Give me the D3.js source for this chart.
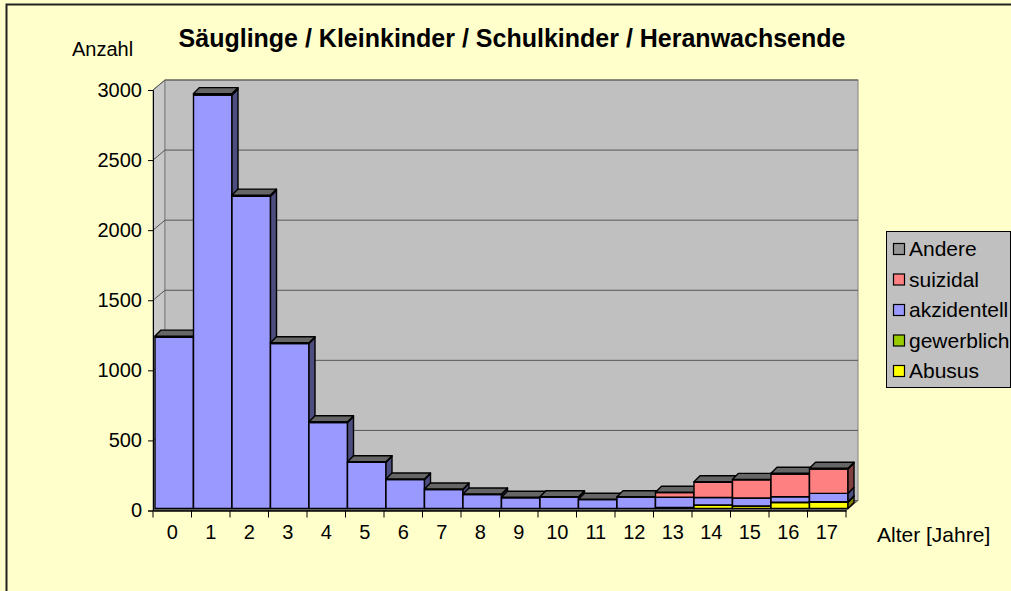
<!DOCTYPE html>
<html>
<head>
<meta charset="utf-8">
<script src="https://cdn.jsdelivr.net/npm/d3@7"></script>
<style>
  body { margin: 0; background: #ffffcc; }
  svg { display: block; }
</style>
</head>
<body>
<div id="chart"></div>
<script>
// Daten: Alter 0..17, gestapelte Anzahl je Ursache
var ageLabels = ["0", "1", "2", "3", "4", "5", "6", "7", "8", "9", "10", "11", "12", "13", "14", "15", "16", "17"];
var abusus      = [0, 0, 0, 0, 0, 0, 0, 0, 0, 0, 0, 0, 0, 8, 23, 17, 42, 45];
var gewerblich  = [0, 0, 0, 0, 0, 0, 0, 0, 0, 0, 0, 0, 0, 0, 2, 2, 3, 3];
var akzidentell = [1222, 2950, 2228, 1177, 614, 330, 206, 136, 100, 77, 81, 63, 81, 72, 53, 56, 39, 60];
var suizidal    = [0, 0, 0, 0, 0, 0, 0, 0, 0, 0, 0, 0, 0, 33, 109, 129, 162, 174];
var andere      = [8, 10, 8, 6, 5, 4, 4, 3, 3, 3, 3, 3, 3, 3, 4, 4, 5, 5];
var yTicks = [0, 500, 1000, 1500, 2000, 2500, 3000];

var seriesNames = ["Abusus", "gewerblich", "akzidentell", "suizidal", "Andere"];
var seriesData = [abusus, gewerblich, akzidentell, suizidal, andere];
var seriesColors = ["#ffff00", "#99cc00", "#9999ff", "#ff8080", "#969696"];

var W = 1011, H = 591;
var font = "Arial, 'Liberation Sans', sans-serif";

// 3D Versatz
var wallDx = 12, wallDy = -10;
var barDx = 6, barDy = -6, barOff = 2;

var svg = d3.select("#chart").append("svg")
    .attr("width", W)
    .attr("height", H);

svg.append("rect").attr("width", W).attr("height", H).attr("fill", "#ffffcc");
svg.append("rect")
    .attr("x", 6.5).attr("y", 4.5)
    .attr("width", 1300).attr("height", 900)
    .attr("fill", "none").attr("stroke", "#222").attr("stroke-width", 2);

var x = d3.scaleBand().domain(ageLabels).range([153, 846]).padding(0);
var y = d3.scaleLinear().domain([0, 3000]).range([510.5, 90]);

var rows = ageLabels.map(function (a, i) {
    var r = { age: a };
    seriesNames.forEach(function (s, k) { r[s] = seriesData[k][i]; });
    return r;
});
var stacked = d3.stack().keys(seriesNames)(rows);

function pts(arr) {
    return arr.map(function (p) { return p[0] + "," + p[1]; }).join(" ");
}

/************************************************
				Wände
*************************************************/
var xL = x.range()[0], xR = x.range()[1];
var yB = y(0), yT = y(3000);

// linke Wand
svg.append("polygon")
    .attr("points", pts([[xL, yB], [xL + wallDx, yB + wallDy], [xL + wallDx, yT + wallDy], [xL, yT]]))
    .attr("fill", "#c8c8c8").attr("stroke", "#808080").attr("stroke-width", 1);
// hintere Wand
svg.append("rect")
    .attr("x", xL + wallDx).attr("y", yT + wallDy)
    .attr("width", xR - xL).attr("height", yB - yT)
    .attr("fill", "#c0c0c0").attr("stroke", "#808080").attr("stroke-width", 1);
// Boden
svg.append("polygon")
    .attr("points", pts([[xL, yB], [xL + wallDx, yB + wallDy], [xR + wallDx, yB + wallDy], [xR, yB]]))
    .attr("fill", "#808080").attr("stroke", "#606060").attr("stroke-width", 1);

// Gitterlinien
var grid = svg.append("g");
yTicks.slice(1).forEach(function (v) {
    grid.append("line")
        .attr("x1", xL + wallDx).attr("x2", xR + wallDx)
        .attr("y1", y(v) + wallDy).attr("y2", y(v) + wallDy)
        .attr("stroke", "#555").attr("stroke-width", 1);
    grid.append("line")
        .attr("x1", xL).attr("x2", xL + wallDx)
        .attr("y1", y(v)).attr("y2", y(v) + wallDy)
        .attr("stroke", "#555").attr("stroke-width", 1);
});

/************************************************
				Säulen
*************************************************/
function shade(c, k) {
    var col = d3.rgb(c);
    return d3.rgb(col.r * k, col.g * k, col.b * k).toString();
}

var bars = svg.append("g").attr("stroke", "#000").attr("stroke-width", 1.4).attr("stroke-linejoin", "round");
var bw = x.bandwidth();

ageLabels.forEach(function (a, i) {
    var x0 = x(a) + barOff, x1 = x0 + bw;
    var topK = -1;
    for (var k = 0; k < seriesNames.length; k++) {
        if (seriesData[k][i] > 0) topK = k;
    }
    for (var k = 0; k < seriesNames.length; k++) {
        if (seriesData[k][i] <= 0) continue;
        var seg = stacked[k][i];
        var yb = y(seg[0]) - barOff, yt = y(seg[1]) - barOff;
        bars.append("rect")
            .attr("x", x0).attr("y", yt)
            .attr("width", bw).attr("height", yb - yt)
            .attr("fill", seriesColors[k]);
        bars.append("polygon")
            .attr("points", pts([[x1, yb], [x1 + barDx, yb + barDy], [x1 + barDx, yt + barDy], [x1, yt]]))
            .attr("fill", shade(seriesColors[k], 0.5));
        if (k == topK) {
            bars.append("polygon")
                .attr("points", pts([[x0, yt], [x0 + barDx, yt + barDy], [x1 + barDx, yt + barDy], [x1, yt]]))
                .attr("fill", shade(seriesColors[k], 0.68));
        }
    }
});

/************************************************
				Achsen
*************************************************/
var yAxis = d3.axisLeft(y).tickValues(yTicks).tickFormat(d3.format("d")).tickSize(5).tickPadding(6);
var gy = svg.append("g").attr("transform", "translate(" + xL + ",0)").call(yAxis);
gy.select(".domain").attr("stroke", "#000");
gy.selectAll("line").attr("stroke", "#000");
gy.selectAll("text").attr("font-family", font).attr("font-size", 20).attr("fill", "#000");

var xAxis = d3.axisBottom(x).tickSize(0).tickPadding(14);
var gx = svg.append("g").attr("transform", "translate(0," + yB + ")").call(xAxis);
gx.select(".domain").attr("stroke", "#000").attr("stroke-width", 1.5);
gx.selectAll("text").attr("font-family", font).attr("font-size", 20).attr("fill", "#000");
// Striche an den Kategoriegrenzen
x.domain().concat(["end"]).forEach(function (a, i) {
    var xx = xL + i * bw;
    gx.append("line").attr("x1", xx).attr("x2", xx).attr("y1", 0).attr("y2", 7)
        .attr("stroke", "#000").attr("stroke-width", 1);
});

/************************************************
				Texte
*************************************************/
svg.append("text")
    .attr("x", 512).attr("y", 47)
    .attr("text-anchor", "middle")
    .attr("font-family", font).attr("font-size", 25).attr("font-weight", "bold")
    .text("Säuglinge / Kleinkinder / Schulkinder / Heranwachsende");

svg.append("text")
    .attr("x", 72).attr("y", 56)
    .attr("font-family", font).attr("font-size", 20)
    .text("Anzahl");

svg.append("text")
    .attr("x", 877).attr("y", 542)
    .attr("font-family", font).attr("font-size", 21)
    .text("Alter [Jahre]");

/************************************************
				Legende
*************************************************/
var legend = svg.append("g").attr("transform", "translate(886,231)");
legend.append("rect")
    .attr("x", 0.5).attr("y", 0.5).attr("width", 124).attr("height", 156)
    .attr("fill", "#c0c0c0").attr("stroke", "#000").attr("stroke-width", 1);

var legOrder = seriesNames.slice().reverse();
legOrder.forEach(function (s, i) {
    var k = seriesNames.indexOf(s);
    var cy = 18 + i * 30.5;
    legend.append("rect")
        .attr("x", 7.5).attr("y", cy - 5.5).attr("width", 11).attr("height", 11)
        .attr("fill", seriesColors[k]).attr("stroke", "#000").attr("stroke-width", 1.2);
    legend.append("text")
        .attr("x", 23).attr("y", cy + 7)
        .attr("font-family", font).attr("font-size", 21)
        .text(s);
});
</script>
</body>
</html>
